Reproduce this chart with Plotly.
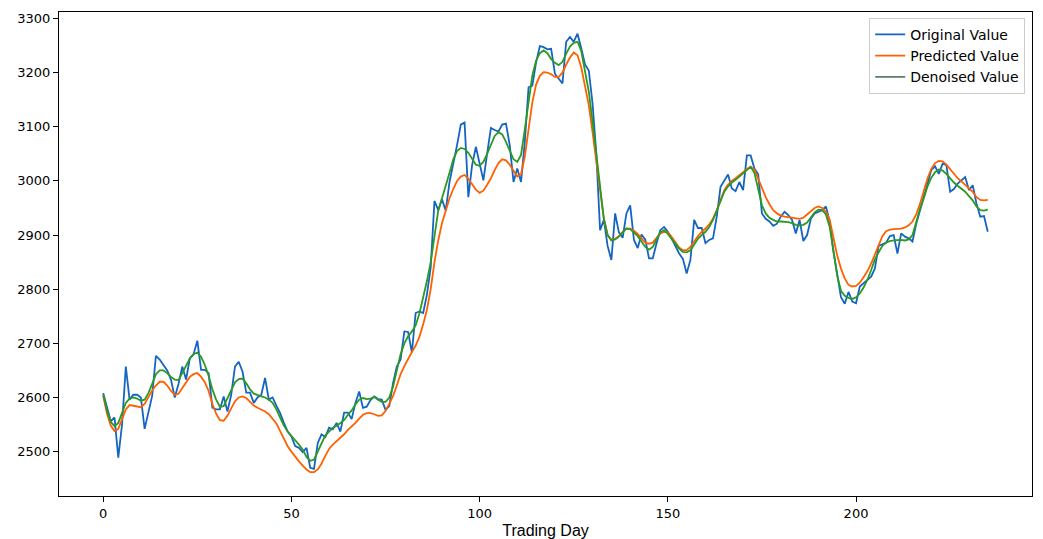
import plotly.graph_objects as go

original = [2608, 2580, 2556, 2563, 2489, 2550, 2657, 2596, 2605, 2605,
            2600, 2542, 2572, 2603, 2677, 2670, 2660, 2650, 2633, 2600,
            2625, 2657, 2633, 2672, 2680, 2705, 2651, 2651, 2645, 2581,
            2578, 2578, 2602, 2574, 2605, 2657, 2666, 2648, 2609, 2609,
            2590, 2600, 2605, 2636, 2596, 2600, 2585, 2571, 2553, 2537,
            2528, 2510, 2507, 2499, 2507, 2470, 2468, 2516, 2532, 2527,
            2544, 2541, 2553, 2537, 2572, 2572, 2560, 2590, 2611, 2581,
            2583, 2595, 2602, 2597, 2596, 2577, 2584, 2627, 2657, 2670,
            2722, 2721, 2683, 2756, 2759, 2756, 2790, 2840, 2963, 2946,
            2966, 2945, 2998, 3029, 3066, 3104, 3108, 2970, 3029, 3063,
            3029, 3001, 3051, 3098, 3094, 3091, 3104, 3106, 3066, 2998,
            3023, 2998, 3072, 3173, 3176, 3219, 3249, 3247, 3243, 3244,
            3198, 3189, 3180, 3257, 3266, 3257, 3272, 3245, 3215, 3204,
            3143, 3050, 2909, 2928, 2880, 2854, 2940, 2905, 2895, 2940,
            2955, 2891, 2876, 2901, 2892, 2857, 2857, 2885, 2909, 2915,
            2906, 2894, 2880, 2866, 2856, 2829, 2854, 2928, 2913, 2913,
            2885, 2891, 2894, 2934, 2989, 3001, 3012, 2986, 2981, 2998,
            2983, 3047, 3047, 3023, 3012, 2940, 2930, 2925, 2917, 2921,
            2934, 2943, 2937, 2928, 2903, 2928, 2889, 2900, 2930, 2940,
            2943, 2946, 2953, 2925, 2870, 2830, 2785, 2773, 2795, 2777,
            2774, 2805, 2811, 2817, 2823, 2838, 2880, 2883, 2886, 2898,
            2900, 2866, 2903, 2897, 2894, 2888, 2921, 2946, 2971, 2998,
            3020, 3027, 3013, 3032, 3029, 2980, 2985, 2995, 3001, 3007,
            2983, 2992, 2958, 2934, 2935, 2906]

predicted = [2603, 2570, 2548, 2538, 2542, 2562, 2578, 2586, 2585, 2583,
             2582, 2588, 2600, 2613, 2622, 2629, 2629, 2622, 2612, 2605,
             2607, 2618, 2628, 2638, 2643, 2645, 2638, 2628, 2612, 2588,
             2570, 2558, 2557, 2566, 2580, 2593, 2600, 2602, 2599, 2592,
             2585, 2581, 2578, 2574, 2569, 2561, 2552, 2538, 2524, 2510,
             2500, 2490, 2482, 2474, 2467, 2462, 2462, 2467, 2478, 2492,
             2505, 2513, 2519, 2525, 2532, 2540, 2546, 2553, 2561, 2568,
             2571, 2571, 2569, 2566, 2567, 2575, 2588, 2603, 2622, 2643,
             2658, 2672, 2684, 2696, 2712, 2735, 2762, 2800, 2850, 2890,
             2922, 2945, 2968, 2985, 3000, 3008, 3011, 3004, 2995, 2984,
             2978, 2982, 2993, 3005, 3020, 3033, 3040, 3038, 3030, 3018,
             3008, 3012, 3045, 3095, 3145, 3178, 3194, 3201, 3200, 3197,
             3192, 3192, 3200, 3215, 3228, 3237, 3232, 3210, 3178, 3140,
             3090, 3040, 2985, 2930, 2900, 2891, 2893, 2898, 2906, 2912,
             2912, 2908, 2902, 2893, 2886, 2884, 2886, 2895, 2903, 2906,
             2905, 2897, 2886, 2877, 2872, 2872, 2878, 2889, 2898, 2906,
             2912, 2920, 2930, 2946, 2965, 2983, 2993, 3000, 3005, 3010,
             3016, 3022, 3026, 3021, 3003, 2985, 2970, 2957, 2946, 2940,
             2936, 2934, 2933, 2932, 2931, 2930, 2932, 2938, 2945, 2950,
             2953, 2950, 2943, 2928, 2895, 2862, 2838, 2820, 2808, 2805,
             2806, 2812, 2822, 2833, 2847, 2865, 2882, 2898, 2907, 2910,
             2911, 2911, 2912, 2914, 2918, 2925, 2938, 2958, 2982, 3005,
             3022, 3033, 3037, 3036, 3030, 3022, 3012, 3005, 2999, 2993,
             2986, 2980, 2970, 2965, 2964, 2965]

denoised = [2605, 2575, 2555, 2547, 2553, 2570, 2590, 2598, 2600, 2598,
            2594, 2596, 2608, 2625, 2643, 2650, 2650, 2645, 2638, 2633,
            2632, 2645, 2660, 2672, 2680, 2683, 2675, 2660, 2640, 2615,
            2596, 2583, 2584, 2598, 2615, 2628, 2634, 2635, 2626, 2615,
            2607, 2604, 2602, 2600, 2596, 2590, 2578, 2563, 2548, 2537,
            2528, 2521, 2513, 2504, 2490, 2483, 2485, 2500, 2518, 2530,
            2537, 2544, 2548, 2553, 2558, 2568, 2576, 2587, 2596, 2599,
            2597, 2598, 2601, 2596, 2592, 2592, 2600, 2620, 2648, 2680,
            2700, 2713, 2722, 2733, 2755, 2783, 2815, 2850, 2900, 2945,
            2968, 2990, 3015, 3040, 3055, 3061, 3059, 3052, 3040, 3030,
            3028, 3035, 3050, 3068, 3083, 3090, 3086, 3072, 3055, 3040,
            3035, 3048, 3095, 3150, 3195, 3222, 3236, 3241, 3236, 3225,
            3218, 3214, 3220, 3235, 3248, 3255, 3257, 3240, 3200, 3165,
            3110, 3050, 2985, 2930, 2900, 2890, 2892, 2897, 2905, 2912,
            2911, 2905, 2898, 2888, 2878, 2873, 2878, 2892, 2905, 2909,
            2902, 2893, 2883, 2875, 2869, 2868, 2872, 2883, 2893, 2900,
            2906, 2915, 2928, 2945, 2962, 2980, 2990, 2997, 3002, 3008,
            3014, 3020, 3026, 3015, 2985, 2955, 2940, 2932, 2928, 2925,
            2925, 2925, 2924, 2922, 2919, 2918, 2919, 2923, 2932, 2942,
            2947, 2946, 2938, 2915, 2870, 2825, 2797, 2788, 2784, 2782,
            2785, 2792, 2803, 2817, 2835, 2855, 2868, 2880, 2886, 2889,
            2890, 2891, 2891, 2890, 2892, 2900, 2925, 2948, 2968, 2990,
            3006, 3016, 3021, 3019, 3013, 3004, 2997, 2991, 2985, 2980,
            2972, 2964, 2953, 2946, 2945, 2947]

days = list(range(len(original)))
x_ticks = [0, 50, 100, 150, 200]
y_ticks = [2500, 2600, 2700, 2800, 2900, 3000, 3100, 3200, 3300]

BLUE = "#1565c0"
ORANGE = "#ff6000"
GREEN = "#2a9a22"
GREEN_LEGEND = "#5a7f66"

fig = go.Figure()
fig.add_trace(go.Scatter(x=days, y=original, mode="lines", name="Original Value",
                         line=dict(color=BLUE, width=1.8)))
fig.add_trace(go.Scatter(x=days, y=predicted, mode="lines", name="Predicted Value",
                         line=dict(color=ORANGE, width=1.8)))
fig.add_trace(go.Scatter(x=days, y=denoised, mode="lines", name="Denoised Value",
                         line=dict(color=GREEN, width=1.8), showlegend=False))
fig.add_trace(go.Scatter(x=[None], y=[None], mode="lines", name="Denoised Value",
                         line=dict(color=GREEN_LEGEND, width=1.8)))

axis_common = dict(showgrid=False, zeroline=False, showline=True, linecolor="black",
                   linewidth=1, mirror=True, ticks="outside", ticklen=5,
                   tickcolor="black", tickwidth=1, automargin=False,
                   tickfont=dict(family="DejaVu Sans", size=13, color="black"))

# The page body has an 8px margin, so the figure is shrunk by 8px and
# its left/top margins reduced by 8px to land where the reference has it.
fig.update_layout(
    width=1035, height=531,
    margin=dict(l=51, r=11, t=4, b=43),
    paper_bgcolor="white", plot_bgcolor="white",
    xaxis=dict(range=[-11.75, 246.75], tickvals=x_ticks,
               title=dict(text="Trading Day", standoff=6,
                          font=dict(family="Liberation Sans", size=16, color="black")),
               **axis_common),
    yaxis=dict(range=[2418, 3312], tickvals=y_ticks, **axis_common),
    legend=dict(x=0.993, y=0.988, xanchor="right", yanchor="top",
                bgcolor="rgba(255,255,255,0.9)", bordercolor="#cccccc", borderwidth=1,
                font=dict(family="DejaVu Sans", size=14, color="black"),
                tracegroupgap=0, itemwidth=30),
    showlegend=True,
)

fig.write_html("out.html")
